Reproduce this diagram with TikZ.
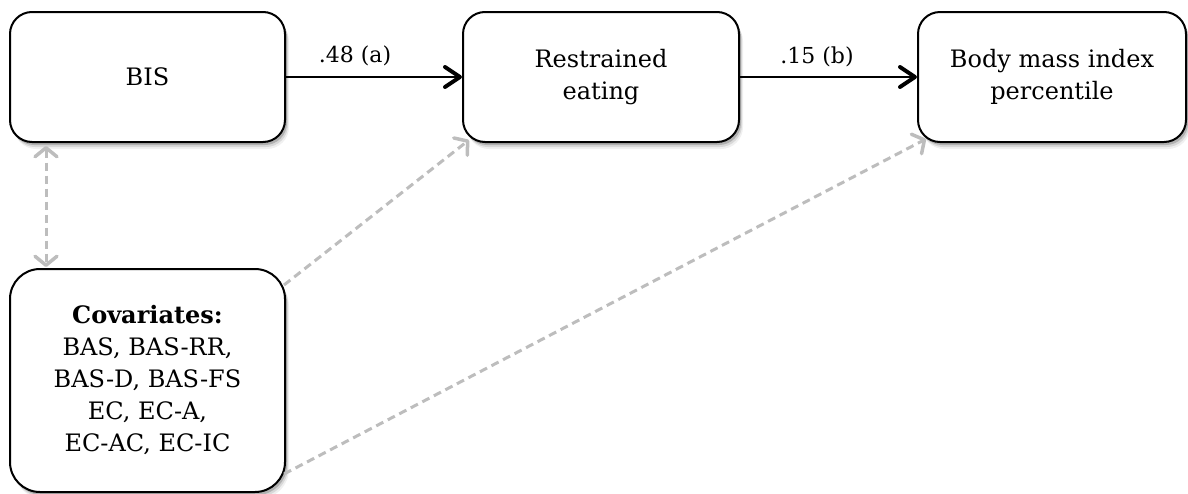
\documentclass[tikz,border=0pt]{standalone}
\usepackage{fontspec}
\setmainfont{DejaVu Serif}
\usetikzlibrary{arrows.meta,shadows,calc}
\definecolor{dashgray}{HTML}{BDBDBD}
\begin{document}
\begin{tikzpicture}[x=1pt,y=-1pt,
  box/.style={draw=black, line width=2pt, rounded corners=22pt, fill=white,
    align=center, inner sep=0pt, font=\fontsize{24}{32}\selectfont,
    general shadow={fill=black, opacity=0.06, shadow xshift=4pt, shadow yshift=-7pt},
    general shadow={fill=black, opacity=0.10, shadow xshift=3pt, shadow yshift=-5pt},
    general shadow={fill=black, opacity=0.18, shadow xshift=2pt, shadow yshift=-3pt}},
  lab/.style={font=\fontsize{22}{26}\selectfont, inner sep=0pt, anchor=base},
  solidarrow/.style={line width=2.5pt, draw=black,
    -{Straight Barb[length=15pt, width=20pt, line width=4pt, round]}},
  grayarrow/.style={line width=3pt, draw=dashgray, dash pattern=on 8pt off 5pt,
    -{Straight Barb[length=9pt, width=22pt, line width=3.5pt, round]}},
  graydouble/.style={line width=3pt, draw=dashgray, dash pattern=on 8pt off 5pt,
    {Straight Barb[length=9pt, width=22pt, line width=3.5pt, round]}-{Straight Barb[length=9pt, width=22pt, line width=3.5pt, round]}}
]
\useasboundingbox (0,0) rectangle (1188,493);

\node[box, minimum width=275pt, minimum height=130pt] (bis) at (147.5,77) {BIS};
\node[box, minimum width=276pt, minimum height=130pt] (re) at (601,77) {Restrained\\eating};
\node[box, minimum width=268pt, minimum height=130pt] (bmi) at (1052,77) {Body mass index\\percentile};
\node[box, rounded corners=30pt, minimum width=275pt, minimum height=223pt] (cov) at (147.5,380.5)
  {\textbf{Covariates:}\\BAS, BAS-RR,\\BAS-D, BAS-FS\\EC, EC-A,\\EC-AC, EC-IC};

\draw[solidarrow] (bis.east) -- (re.west);
\draw[solidarrow] (re.east) -- (bmi.west);
\node[lab] (la) at (355,62) {.48 (a)};
\node[lab] (lb) at (817,63) {.15 (b)};

\coordinate (d1) at ($(bis.south west)+(37,3)$);
\coordinate (d2) at ($(cov.north west)+(37,-1)$);
\draw[graydouble] (d1) -- (d2);

\coordinate (c1) at ($(cov.north east)+(-2,17)$);
\coordinate (t1) at ($(re.south west)+(7,-3)$);
\draw[grayarrow] (c1) -- (t1);

\coordinate (c2) at ($(cov.south east)+(-2,-19)$);
\coordinate (t2) at ($(bmi.south west)+(9,-4)$);
\draw[grayarrow] (c2) -- (t2);
\end{tikzpicture}
\end{document}
